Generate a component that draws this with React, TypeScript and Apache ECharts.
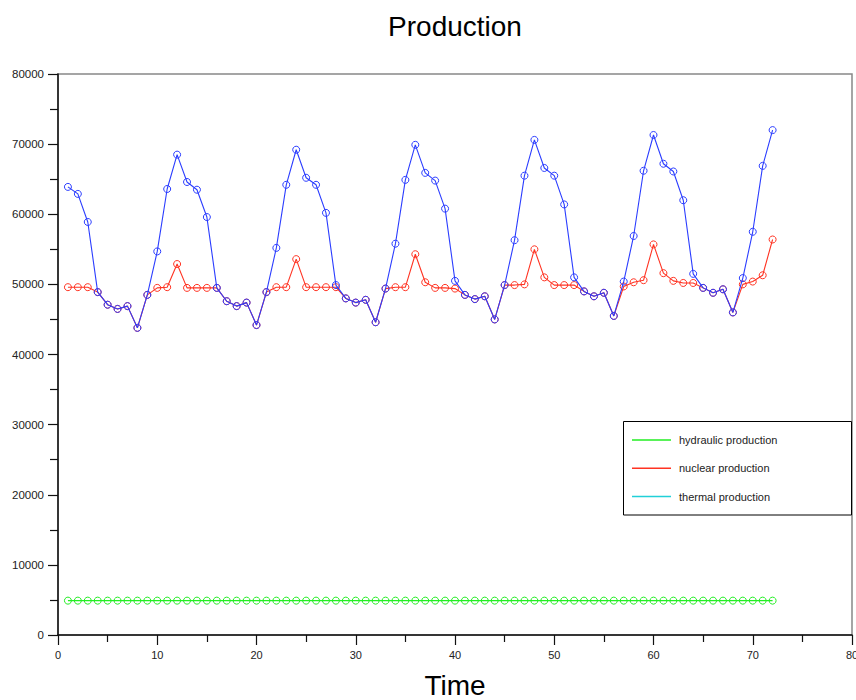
import React, { useEffect, useRef } from "react";
import * as echarts from "echarts";

const TITLE = "Production";
const X_NAME = "Time";
const SERIES_NAMES = ["hydraulic production", "nuclear production", "thermal production"];
const LINE_COLORS = ["#22ee22", "#ff3322", "#2b3dff"];
const LEGEND_COLORS = ["#22ee22", "#ff3322", "#22d0d8"];

const time = [
  1, 2, 3, 4, 5, 6, 7, 8, 9, 10, 11, 12, 13, 14, 15, 16, 17, 18, 19, 20, 21, 22, 23, 24,
  25, 26, 27, 28, 29, 30, 31, 32, 33, 34, 35, 36, 37, 38, 39, 40, 41, 42, 43, 44, 45, 46, 47, 48,
  49, 50, 51, 52, 53, 54, 55, 56, 57, 58, 59, 60, 61, 62, 63, 64, 65, 66, 67, 68, 69, 70, 71, 72,
];

const hydraulic = [
  4900, 4900, 4900, 4900, 4900, 4900, 4900, 4900, 4900, 4900, 4900, 4900,
  4900, 4900, 4900, 4900, 4900, 4900, 4900, 4900, 4900, 4900, 4900, 4900,
  4900, 4900, 4900, 4900, 4900, 4900, 4900, 4900, 4900, 4900, 4900, 4900,
  4900, 4900, 4900, 4900, 4900, 4900, 4900, 4900, 4900, 4900, 4900, 4900,
  4900, 4900, 4900, 4900, 4900, 4900, 4900, 4900, 4900, 4900, 4900, 4900,
  4900, 4900, 4900, 4900, 4900, 4900, 4900, 4900, 4900, 4900, 4900, 4900,
];

const nuclear = [
  49600, 49600, 49600, 48900, 47100, 46500, 46900, 43800, 48500, 49500, 49600, 52900,
  49500, 49500, 49500, 49500, 47600, 46900, 47400, 44200, 48900, 49600, 49600, 53600,
  49600, 49600, 49600, 49600, 48000, 47400, 47800, 44600, 49400, 49600, 49600, 54300,
  50300, 49500, 49500, 49400, 48500, 47900, 48300, 45000, 49900, 49900, 50000, 55000,
  51000, 49900, 49900, 49900, 49000, 48300, 48800, 45500, 49700, 50300, 50600, 55700,
  51600, 50500, 50200, 50200, 49500, 48800, 49300, 46000, 50000, 50400, 51300, 56400,
];

const thermal = [
  63900, 62900, 58900, 48900, 47100, 46500, 46900, 43800, 48500, 54700, 63600, 68500,
  64600, 63500, 59600, 49500, 47600, 46900, 47400, 44200, 48900, 55200, 64200, 69200,
  65200, 64200, 60200, 49900, 48000, 47400, 47800, 44600, 49400, 55800, 64900, 69900,
  65900, 64800, 60800, 50500, 48500, 47900, 48300, 45000, 49900, 56300, 65500, 70600,
  66600, 65500, 61400, 51000, 49000, 48300, 48800, 45500, 50400, 56900, 66200, 71300,
  67200, 66100, 62000, 51500, 49500, 48800, 49300, 46000, 50900, 57500, 66900, 72000,
];

const FONT = "'Liberation Sans', Arial, Helvetica, sans-serif";

export default function App() {
  const ref = useRef<HTMLDivElement>(null);

  useEffect(() => {
    if (!ref.current) return;
    const chart = echarts.init(ref.current, undefined, { renderer: "svg" });
    const values = [hydraulic, nuclear, thermal];

    const series = SERIES_NAMES.map((name, i) => ({
      name,
      type: "line",
      data: time.map((t, k) => [t, values[i][k]]),
      symbol: "circle",
      symbolSize: 7,
      showSymbol: true,
      color: LINE_COLORS[i],
      lineStyle: { color: LINE_COLORS[i], width: 1.1 },
      itemStyle: { color: "rgba(255,255,255,0)", borderColor: LINE_COLORS[i], borderWidth: 1 },
      z: 2 + i,
    }));

    chart.setOption({
      animation: false,
      backgroundColor: "#ffffff",
      textStyle: { fontFamily: FONT },
      title: {
        text: TITLE,
        left: 455,
        textAlign: "center",
        top: 12,
        padding: 0,
        textStyle: { fontFamily: FONT, fontSize: 28, fontWeight: "normal", color: "#000" },
      },
      grid: {
        left: 58,
        right: 4,
        top: 74,
        bottom: 65,
        containLabel: false,
        outerBoundsMode: "none",
        show: true,
        borderColor: "#888888",
        borderWidth: 1.5,
        backgroundColor: "transparent",
      },
      xAxis: {
        type: "value",
        min: 0,
        max: 80,
        interval: 10,
        name: X_NAME,
        nameLocation: "middle",
        nameGap: 38,
        nameTextStyle: { fontFamily: FONT, fontSize: 28, lineHeight: 24, color: "#000" },
        axisLine: { show: true, onZero: false, lineStyle: { color: "#111", width: 1.5 } },
        axisTick: { show: true, length: 10, lineStyle: { color: "#111", width: 1.2 } },
        minorTick: { show: true, splitNumber: 2, length: 7, lineStyle: { color: "#111", width: 1.2 } },
        axisLabel: { fontFamily: FONT, fontSize: 11, color: "#222", margin: 14, formatter: (v: number) => String(v) },
        splitLine: { show: false },
        minorSplitLine: { show: false },
      },
      yAxis: {
        type: "value",
        min: 0,
        max: 80000,
        interval: 10000,
        axisLine: { show: true, onZero: false, lineStyle: { color: "#111", width: 1.5 } },
        axisTick: { show: true, length: 10, lineStyle: { color: "#111", width: 1.2 } },
        minorTick: { show: true, splitNumber: 2, length: 8, lineStyle: { color: "#111", width: 1.2 } },
        axisLabel: { fontFamily: FONT, fontSize: 11.5, color: "#222", margin: 14, formatter: (v: number) => String(v) },
        splitLine: { show: false },
        minorSplitLine: { show: false },
      },
      legend: {
        orient: "vertical",
        left: 632,
        top: 433,
        padding: 0,
        itemGap: 14.3,
        itemWidth: 39,
        itemHeight: 1.5,
        icon: "rect",
        z: 10,
        selectedMode: false,
        textStyle: { fontFamily: FONT, fontSize: 11, lineHeight: 14, color: "#222", padding: [0, 0, 0, 3] },
        data: SERIES_NAMES.map((name, i) => ({
          name,
          itemStyle: { color: LEGEND_COLORS[i], borderWidth: 0 },
        })),
      },
      graphic: [
        {
          type: "rect",
          z: 5,
          shape: { x: 623.5, y: 421.5, width: 228, height: 93.5 },
          style: { fill: "#ffffff", stroke: "#000000", lineWidth: 1 },
        },
      ],
      series,
    });

    return () => chart.dispose();
  }, []);

  return (
    <div
      ref={ref}
      style={{ position: "absolute", left: 0, top: 0, width: 856, height: 700 }}
    />
  );
}
